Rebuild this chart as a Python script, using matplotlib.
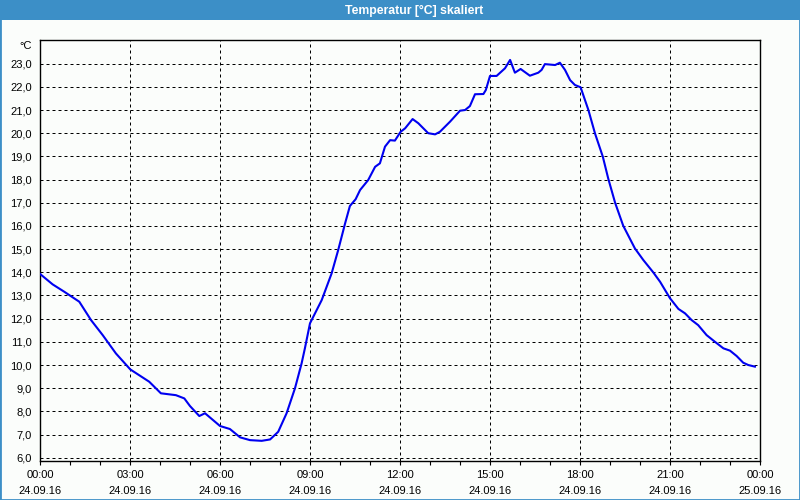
#!/usr/bin/env python
# -*- coding: utf-8 -*-

"""Temperature trend of one day, drawn like the logger window."""

import matplotlib
matplotlib.use("Agg")
import matplotlib.pyplot as plt
from matplotlib.patches import Rectangle
from matplotlib.ticker import FixedLocator, MultipleLocator, FuncFormatter

# hours since 24.09.16 00:00
hours = [0.00, 0.42, 0.81, 1.31, 1.70, 2.09, 2.53, 3.01, 3.64, 4.03,
         4.53, 4.81, 5.00, 5.31, 5.50, 6.00, 6.33, 6.67, 7.00, 7.39,
         7.67, 7.94, 8.22, 8.50, 8.72, 8.83, 9.00, 9.39, 9.72, 9.94,
         10.17, 10.33, 10.52, 10.67, 10.94, 11.17, 11.33, 11.50, 11.67, 11.83,
         12.02, 12.17, 12.42, 12.61, 12.94, 13.17, 13.33, 13.67, 14.00, 14.17,
         14.33, 14.50, 14.78, 14.86, 15.00, 15.22, 15.50, 15.67, 15.83, 16.02,
         16.33, 16.61, 16.72, 16.83, 17.17, 17.33, 17.50, 17.67, 17.83, 18.02,
         18.28, 18.50, 18.76, 18.94, 19.17, 19.44, 19.83, 20.11, 20.44, 20.67,
         21.00, 21.28, 21.50, 21.72, 21.94, 22.22, 22.50, 22.78, 23.00, 23.22,
         23.44, 23.61, 23.83]

# temperature in degC
temps = [13.93, 13.48, 13.16, 12.73, 11.94, 11.29, 10.50, 9.81, 9.28, 8.78,
         8.70, 8.56, 8.23, 7.80, 7.92, 7.37, 7.24, 6.88, 6.76, 6.73,
         6.79, 7.12, 7.92, 9.00, 10.07, 10.72, 11.80, 12.80, 13.95, 14.96,
         16.11, 16.86, 17.15, 17.55, 17.98, 18.55, 18.70, 19.42, 19.70, 19.68,
         20.06, 20.21, 20.61, 20.43, 20.00, 19.95, 20.06, 20.50, 20.97, 21.00,
         21.17, 21.68, 21.69, 21.86, 22.47, 22.47, 22.80, 23.16, 22.61, 22.77,
         22.48, 22.61, 22.73, 22.98, 22.94, 23.04, 22.73, 22.29, 22.08, 21.98,
         21.00, 19.99, 18.99, 18.05, 17.00, 16.01, 15.03, 14.53, 14.00, 13.59,
         12.88, 12.42, 12.23, 11.94, 11.72, 11.29, 11.00, 10.72, 10.62, 10.39,
         10.10, 10.00, 9.93]

x_ticks = [0, 3, 6, 9, 12, 15, 18, 21, 24]
x_labels = ["00:00\n24.09.16", "03:00\n24.09.16", "06:00\n24.09.16",
            "09:00\n24.09.16", "12:00\n24.09.16", "15:00\n24.09.16",
            "18:00\n24.09.16", "21:00\n24.09.16", "00:00\n25.09.16"]
y_ticks = list(range(6, 24))

TITLE = "Temperatur [°C] skaliert"
BAR_BLUE = "#3c8fc7"
BG = "#fbfdfb"

plt.rcParams["font.family"] = ["Liberation Sans", "DejaVu Sans"]
plt.rcParams["font.size"] = 8

fig = plt.figure(figsize=(8, 5), dpi=100, facecolor=BG)
ax = fig.add_axes([0.05, 0.078, 0.90, 0.842])
ax.set_facecolor(BG)

ax.plot(hours, temps, color="#0000f0", lw=1.5, solid_joinstyle="round", zorder=3)

ax.set_xlim(0, 24)
ax.set_ylim(5.86, 24.02)

ax.xaxis.set_major_locator(FixedLocator(x_ticks))
ax.set_xticklabels(x_labels)
ax.xaxis.set_minor_locator(MultipleLocator(1))
ax.tick_params(axis="x", which="both", direction="out", length=3, width=0.8,
               pad=3.5, colors="black")
for lbl in ax.get_xticklabels():
    lbl.set_linespacing(1.75)

ax.yaxis.set_major_locator(FixedLocator(y_ticks))
ax.yaxis.set_major_formatter(FuncFormatter(lambda v, p: ("%.1f" % v).replace(".", ",")))
ax.tick_params(axis="y", length=0, pad=6, colors="black")

ax.grid(True, which="major", color="black", lw=0.72, linestyle=(0, (3, 3)))
for sp in ax.spines.values():
    sp.set_color("black")
    sp.set_linewidth(1.0)

ax.annotate("°C", xy=(0, 1), xycoords="axes fraction", xytext=(-8, -1),
            textcoords="offset pixels", ha="right", va="top", fontsize=8)

# title bar and window frame
fig.patches.append(Rectangle((0, 0.96), 1, 0.04, transform=fig.transFigure,
                             facecolor=BAR_BLUE, edgecolor="none", zorder=0))
fig.patches.append(Rectangle((0, 0), 1, 1, transform=fig.transFigure,
                             fill=False, edgecolor=BAR_BLUE, lw=2.0, zorder=5))
fig.text(0.518, 0.979, TITLE, color="white", fontweight="bold",
         ha="center", va="center", fontsize=8.8)

fig.savefig("out.png", dpi=100, facecolor=BG)
